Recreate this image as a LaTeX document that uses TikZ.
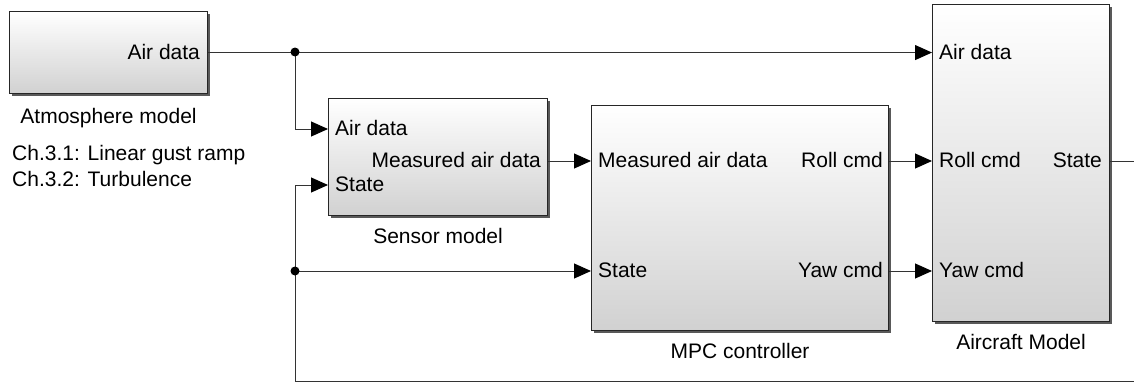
\documentclass[tikz,border=0pt]{standalone}
\usepackage{fontspec}
\setmainfont{Liberation Sans}
\usepackage{tikz}
\usetikzlibrary{arrows.meta, positioning, shadows}

\begin{document}
\begin{tikzpicture}[
  x=1pt, y=-1pt,
  block/.style={draw=black!85, line width=1.1pt, top color=white, bottom color=black!18,
                drop shadow={shadow xshift=2.5pt, shadow yshift=-2.5pt, fill=black!65, opacity=1},
                inner sep=0pt, anchor=north west},
  port/.style={font=\fontsize{21}{24}\selectfont, inner sep=0pt, yshift=-4pt},
  caption/.style={font=\fontsize{21}{24}\selectfont, inner sep=0pt},
  wire/.style={draw=black!80, line width=1pt},
  arrow/.style={wire, -{Triangle[length=17pt, width=15pt, color=black]}},
  dot/.style={circle, fill=black, inner sep=0pt, minimum size=9pt}
]
  \clip (0,0) rectangle (1134,383);

  % blocks
  \node[block, minimum width=198pt, minimum height=82pt]  (atmo)     at (9,11)   {};
  \node[block, minimum width=219pt, minimum height=117pt] (sensor)   at (328,98) {};
  \node[block, minimum width=297pt, minimum height=225pt] (mpc)      at (591,105) {};
  \node[block, minimum width=177pt, minimum height=317pt] (aircraft) at (932,4)  {};

  % ports
  \coordinate (atmo-out)     at (atmo.east);
  \coordinate (sensor-in1)   at (sensor.west |- 0,129);
  \coordinate (sensor-in2)   at (sensor.west |- 0,185);
  \coordinate (sensor-out)   at (sensor.east |- 0,161);
  \coordinate (mpc-in1)      at (mpc.west |- sensor-out);
  \coordinate (mpc-in2)      at (mpc.west |- 0,271);
  \coordinate (mpc-out1)     at (mpc.east |- mpc-in1);
  \coordinate (mpc-out2)     at (mpc.east |- mpc-in2);
  \coordinate (aircraft-in1) at (aircraft.west |- atmo-out);
  \coordinate (aircraft-in2) at (aircraft.west |- mpc-out1);
  \coordinate (aircraft-in3) at (aircraft.west |- mpc-out2);
  \coordinate (aircraft-out) at (aircraft.east |- mpc-out1);

  % port labels
  \node[port, anchor=mid east] (atmo-p1)     at ([xshift=-8pt]atmo-out)     {Air data};
  \node[port, anchor=mid west] (sensor-p1)   at ([xshift=7pt]sensor-in1)    {Air data};
  \node[port, anchor=mid west] (sensor-p2)   at ([xshift=7pt]sensor-in2)    {State};
  \node[port, anchor=mid east] (sensor-p3)   at ([xshift=-7pt]sensor-out)   {Measured air data};
  \node[port, anchor=mid west] (mpc-p1)      at ([xshift=7pt]mpc-in1)       {Measured air data};
  \node[port, anchor=mid west] (mpc-p2)      at ([xshift=7pt]mpc-in2)       {State};
  \node[port, anchor=mid east] (mpc-p3)      at ([xshift=-6pt]mpc-out1)     {Roll cmd};
  \node[port, anchor=mid east] (mpc-p4)      at ([xshift=-6pt]mpc-out2)     {Yaw cmd};
  \node[port, anchor=mid west] (aircraft-p1) at ([xshift=7pt]aircraft-in1)  {Air data};
  \node[port, anchor=mid west] (aircraft-p2) at ([xshift=7pt]aircraft-in2)  {Roll cmd};
  \node[port, anchor=mid west] (aircraft-p3) at ([xshift=7pt]aircraft-in3)  {Yaw cmd};
  \node[port, anchor=mid east] (aircraft-p4) at ([xshift=-8pt]aircraft-out) {State};

  % captions
  \node[caption, below=14pt of atmo]     (atmo-lbl)     {Atmosphere model};
  \node[caption, below=12pt of sensor]   (sensor-lbl)   {Sensor model};
  \node[caption, below=12pt of mpc]      (mpc-lbl)      {MPC controller};
  \node[caption, below=12pt of aircraft] (aircraft-lbl) {Aircraft Model};
  \node[caption, anchor=north west, align=left, font=\fontsize{21}{26}\selectfont] (gust)
    at (12,145) {Ch.3.1: Linear gust ramp\\Ch.3.2: Turbulence};

  % junctions
  \coordinate (j1)  at (295,52);
  \coordinate (j2)  at (295,271);
  \coordinate (fb)  at (295,381);
  \coordinate (fbr) at (1150,381);

  % signals
  \draw[arrow] (atmo-out) -- (aircraft-in1);
  \draw[arrow] (j1) |- (sensor-in1);
  \draw[arrow] (sensor-out) -- (mpc-in1);
  \draw[arrow] (mpc-out1) -- (aircraft-in2);
  \draw[arrow] (mpc-out2) -- (aircraft-in3);
  \draw[arrow] (aircraft-out) -| (fbr) -- (fb) |- (sensor-in2);
  \draw[arrow] (j2) -- (mpc-in2);
  \node[dot] (dot1) at (j1) {};
  \node[dot] (dot2) at (j2) {};
\end{tikzpicture}
\end{document}
